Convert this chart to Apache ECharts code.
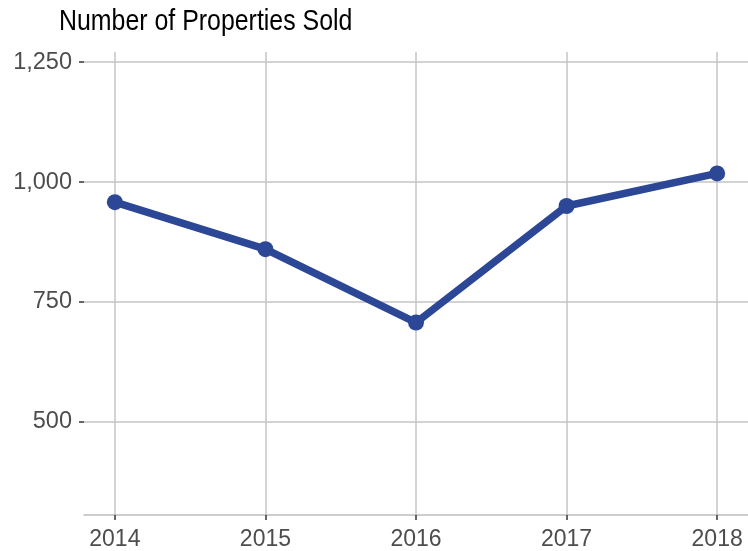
<!DOCTYPE html>
<html><head><meta charset="utf-8">
<script src="https://cdn.jsdelivr.net/npm/echarts@6/dist/echarts.min.js"></script>
<style>html,body{margin:0;padding:0;background:#fff}#c{width:748px;height:551px}</style>
</head><body><div id="c"></div>
<script>
const years = [2014, 2015, 2016, 2017, 2018];
const sold = [958, 860, 707, 950, 1018];
const yTicks = [500, 750, 1000, 1250];
const titleText = 'Number of Properties Sold';

const chart = echarts.init(document.getElementById('c'), null, {renderer: 'canvas'});
const fontFam = '"Liberation Sans", Arial, sans-serif';
chart.setOption({
  animation: false,
  backgroundColor: '#fff',
  graphic: [{
    type: 'text', x: 59, y: 7, scaleX: 0.83, scaleY: 1,
    style: {text: titleText, fontFamily: fontFam, fontSize: 30, fill: '#000', verticalAlign: 'top'}
  }],
  grid: {left: 84, right: -2, top: 52, bottom: 36, containLabel: false},
  xAxis: {
    type: 'value', min: 2013.795, max: 2018.205,
    axisLine: {show: true, onZero: false, lineStyle: {color: '#bdbdbd', width: 1.5}},
    axisTick: {show: true, customValues: years, length: 5, lineStyle: {color: '#333', width: 1.5}},
    axisLabel: {customValues: years, formatter: v => String(v), fontFamily: fontFam, fontSize: 23, color: '#4d4d4d', margin: 13},
    splitLine: {show: true, lineStyle: {color: '#c4c4c4', width: 1.5}}
  },
  yAxis: {
    type: 'value', min: 306, max: 1271,
    axisLine: {show: false},
    axisTick: {show: true, customValues: yTicks, length: 5, lineStyle: {color: '#333', width: 1.5}},
    axisLabel: {customValues: yTicks, formatter: v => v.toLocaleString('en-US'), fontFamily: fontFam, fontSize: 23.5, color: '#4d4d4d', margin: 12},
    splitLine: {show: true, lineStyle: {color: '#c4c4c4', width: 1.5}}
  },
  series: [{
    type: 'line',
    data: years.map((y, i) => [y, sold[i]]),
    symbol: 'circle', symbolSize: 16,
    itemStyle: {color: '#2b4795'},
    lineStyle: {color: '#2b4795', width: 7.5},
    clip: false
  }]
});
</script></body></html>
